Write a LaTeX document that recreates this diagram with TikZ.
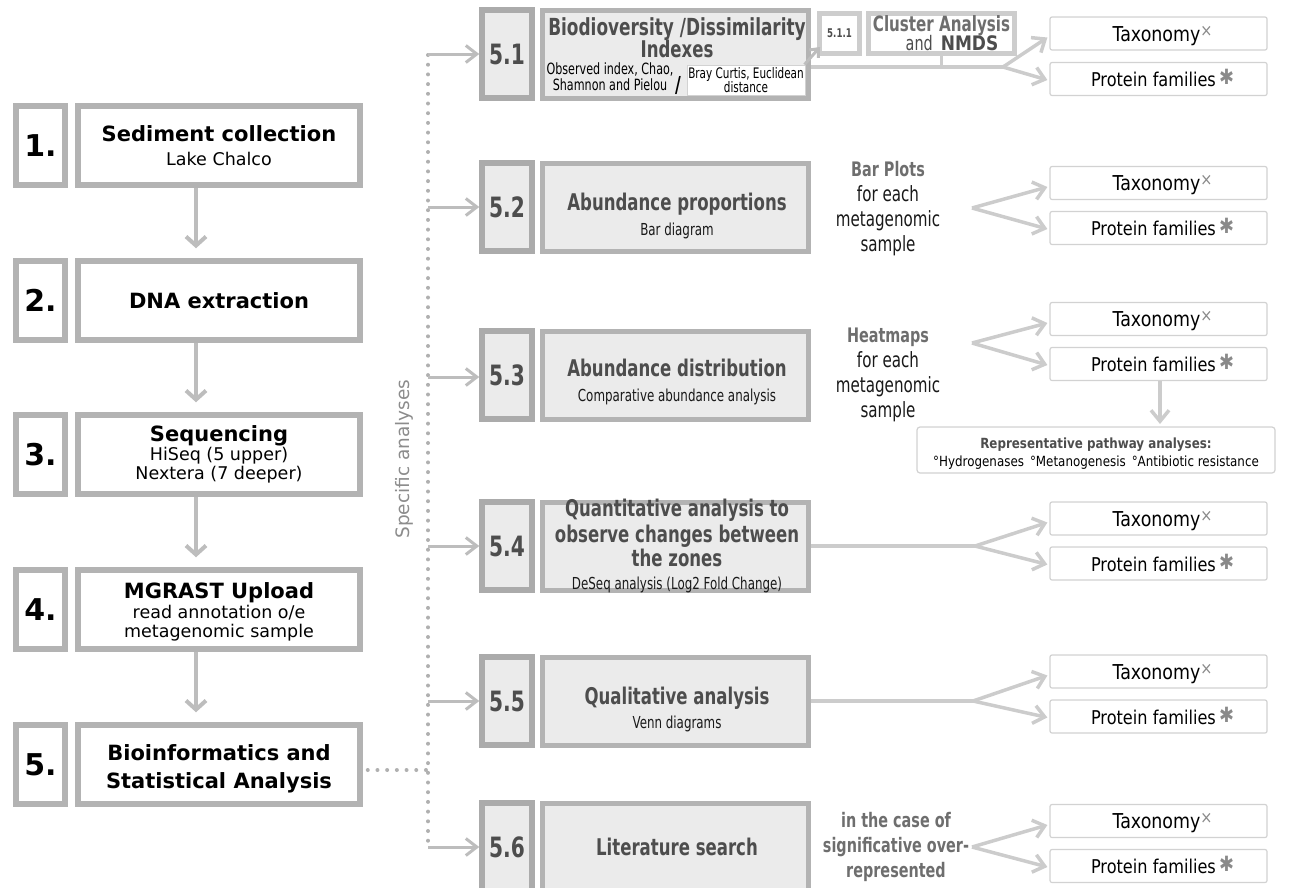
\documentclass[tikz,border=0pt]{standalone}
\usepackage{fontspec}
\setmainfont{DejaVu Sans}
\newfontfamily\nar{DejaVu Sans}[FakeStretch=0.72]
\newfontfamily\tax{DejaVu Sans}[FakeStretch=0.85]
\usetikzlibrary{arrows.meta}
\definecolor{bord}{HTML}{B3B3B3}
\definecolor{nbord}{HTML}{ABABAB}
\definecolor{lite}{HTML}{CDCDCD}
\definecolor{fillg}{HTML}{EBEBEB}
\definecolor{txtg}{HTML}{4D4D4D}
\definecolor{midg}{HTML}{6E6E6E}
\definecolor{arrg}{HTML}{BDBDBD}
\definecolor{arrl}{HTML}{CCCCCC}
\definecolor{dotg}{HTML}{B0B0B0}
\definecolor{thin}{HTML}{D2D2D2}
\definecolor{symg}{HTML}{8A8A8A}
\definecolor{specg}{HTML}{8C8C8C}
\newcommand\fs[1]{\fontsize{#1}{#1}\selectfont}
\newcommand\taxo{\hspace{8pt}{\fs{20.5}Taxonomy}\raisebox{5pt}{\color{symg}\fs{17}×}}
\newcommand\prot{\hspace{8pt}Protein families\,\raisebox{2pt}{\color{symg}\fs{21}✱}}
\begin{document}
\begin{tikzpicture}[x=1pt,y=-1pt,
  lbox/.style={draw=bord, line width=5.5pt, fill=white, inner sep=0pt, minimum height=79pt},
  lnum/.style={lbox, minimum width=49pt, font=\bfseries\fs{30}},
  lmain/.style={lbox, minimum width=282pt},
  rbox/.style={draw=bord, line width=5pt, fill=fillg, inner sep=0pt, minimum height=88pt},
  rnum/.style={rbox, draw=nbord, line width=5.5pt, minimum width=50pt, font=\nar\bfseries\fs{28}, text=txtg},
  rmain/.style={rbox, minimum width=266pt},
  tbox/.style={draw=thin, line width=1.2pt, fill=white, rounded corners=2pt, inner sep=0pt,
    minimum width=217pt, minimum height=33pt, text height=15pt, text depth=0pt, font=\tax\fs{19}},
  txt/.style={inner sep=0pt, anchor=base},
  lb/.style={txt, font=\bfseries\fs{21}},
  lr/.style={txt, font=\fs{17.5}},
  rt/.style={txt, font=\nar\bfseries\fs{23}, text=txtg},
  rs/.style={txt, font=\nar\fs{16.5}, text=black!90},
  sidebold/.style={txt, font=\nar\bfseries\fs{20}, text=midg},
  sidereg/.style={txt, font=\nar\fs{21}, text=black!90},
  larr/.style={draw=arrg, line width=4pt, -{Straight Barb[length=9pt,width=20pt]}},
  rarr/.style={draw=arrg, line width=3pt, -{Straight Barb[length=11pt,width=17pt]}},
  barr/.style={draw=arrl, line width=3.5pt, -{Straight Barb[length=11pt,width=18pt]}},
  sarr/.style={draw=arrg, line width=3pt, -{Straight Barb[length=7pt,width=12pt]}},
  bline/.style={draw=arrl, line width=3.5pt},
  dots/.style={draw=dotg, line width=4pt, line cap=round, dash pattern=on 0pt off 9.7pt}
]
\useasboundingbox (0,0) rectangle (1292,887);

% ---------------- left column
\node[lnum] (n1) at (40.5,145.5) {1.};
\node[lmain] (b1) at (219,145.5) {};
\node[lb] (b1t) at (219,141) {Sediment collection};
\node[lr] (b1s) at (219,165) {Lake Chalco};

\node[lnum] (n2) at (40.5,300.5) {2.};
\node[lmain] (b2) at (219,300.5) {};
\node[lb] (b2t) at (219,308) {DNA extraction};

\node[lnum] (n3) at (40.5,454.5) {3.};
\node[lmain] (b3) at (219,454.5) {};
\node[lb] (b3t) at (219,441) {Sequencing};
\node[lr] (b3s) at (219,460) {HiSeq (5 upper)};
\node[lr] (b3u) at (219,479) {Nextera (7 deeper)};

\node[lnum] (n4) at (40.5,609.5) {4.};
\node[lmain] (b4) at (219,609.5) {};
\node[lb] (b4t) at (219,598) {MGRAST Upload};
\node[lr] (b4s) at (219,618) {read annotation o/e};
\node[lr] (b4u) at (219,637) {metagenomic sample};

\node[lnum] (n5) at (40.5,764.5) {5.};
\node[lmain] (b5) at (219,764.5) {};
\node[lb] (b5t) at (219,760) {Bioinformatics and};
\node[lb] (b5u) at (219,788) {Statistical Analysis};

\draw[larr] ([xshift=-23pt]b1.south) -- ([xshift=-23pt,yshift=10pt]b2.north);
\draw[larr] ([xshift=-23pt]b2.south) -- ([xshift=-23pt,yshift=10pt]b3.north);
\draw[larr] ([xshift=-23pt]b3.south) -- ([xshift=-23pt,yshift=10pt]b4.north);
\draw[larr] ([xshift=-23pt]b4.south) -- ([xshift=-23pt,yshift=10pt]b5.north);

% ---------------- dotted spine
\coordinate (dtop) at (428,55);
\coordinate (dbot) at (428,848);
\coordinate (dj) at (428,770);
\draw[dots] (dtop) -- (dbot);
\draw[dots] ([xshift=5pt,yshift=-5.5pt]b5.east) -- (dj);
\node[rotate=90, font=\fs{18.5}, text=specg, inner sep=0pt] (spec) at (404,459) {Specific analyses};

% ---------------- right boxes
\node[rnum] (r1n) at (507,54) {5.1};
\node[rmain] (r1m) at (675.5,54) {};
\node[rnum] (r2n) at (507,207) {5.2};
\node[rmain] (r2m) at (675.5,207) {};
\node[rnum] (r3n) at (507,375) {5.3};
\node[rmain] (r3m) at (675.5,375) {};
\node[rnum] (r4n) at (507,546) {5.4};
\node[rmain] (r4m) at (675.5,546) {};
\node[rnum] (r5n) at (507,701) {5.5};
\node[rmain] (r5m) at (675.5,701) {};
\node[rnum] (r6n) at (507,847) {5.6};
\node[rmain] (r6m) at (675.5,847) {};

\draw[rarr] (r1n.west -| dtop) -- (r1n.west);
\draw[rarr] (r2n.west -| dtop) -- (r2n.west);
\draw[rarr] ([yshift=-2pt]r3n.west -| dtop) -- ([yshift=-2pt]r3n.west);
\draw[rarr] (r4n.west -| dtop) -- (r4n.west);
\draw[rarr] (r5n.west -| dtop) -- (r5n.west);
\draw[rarr] (r6n.west -| dtop) -- (r6n.west);

% 5.1 contents
\node[rt, font=\nar\bfseries\fs{23.5}] (r1t) at (677,35) {Biodioversity /Dissimilarity};
\node[rt] (r1u) at (677,57) {Indexes};
\node[txt, font=\nar\fs{15.5}] (r1a) at (610,74) {Observed index, Chao,};
\node[txt, font=\nar\fs{15.5}] (r1b) at (610,90.5) {Shamnon and Pielou};
\node[txt, font=\nar\bfseries\fs{22}] (r1sl) at (678,92) {/};
\node[draw=thin, line width=1pt, fill=white, inner sep=0pt, minimum width=118pt, minimum height=30pt] (bray) at (746,80) {};
\node[txt, font=\nar\fs{14.5}] (br1a) at (746,78) {Bray Curtis, Euclidean};
\node[txt, font=\nar\fs{14.5}] (br1b) at (746,92) {distance};

\node[draw=lite, line width=5pt, fill=white, inner sep=0pt, minimum width=40pt, minimum height=40pt,
  font=\nar\bfseries\fs{12}, text=txtg] (r11) at (839.5,33.5) {5.1.1};
\node[draw=lite, line width=5pt, fill=white, inner sep=0pt, minimum width=146pt, minimum height=40pt] (clu) at (941.5,33.5) {};
\node[txt, font=\nar\bfseries\fs{21}, text=midg] (clu1) at (941.5,31) {Cluster Analysis};
\node[txt, text=txtg] (clu2) at (952,50) {{\nar\fs{20}and}\hspace{8pt}{\tax\bfseries\fs{20}NMDS}};

\coordinate (br1) at (1003,67);
\draw[bline] (br1 -| r1m.east) -- (br1);
\draw[bline] (clu.south) -- (clu.south |- br1);
\draw[sarr] ([xshift=-1pt,yshift=0pt]bray.north east) -- ([xshift=3pt,yshift=9pt]r11.south west);

% 5.2 contents
\node[rt] (r2t) at (677,210) {Abundance proportions};
\node[rs] (r2s) at (677,235) {Bar diagram};
\node[sidebold] (bp1) at (888,176) {Bar Plots};
\node[sidereg] (bp2) at (888,201) {for each};
\node[sidereg] (bp3) at (888,226) {metagenomic};
\node[sidereg] (bp4) at (888,251) {sample};
\coordinate (br2) at (972,208);

% 5.3 contents
\node[rt] (r3t) at (677,376) {Abundance distribution};
\node[rs] (r3s) at (677,401) {Comparative abundance analysis};
\node[sidebold] (hm1) at (888,342) {Heatmaps};
\node[sidereg] (hm2) at (888,367) {for each};
\node[sidereg] (hm3) at (888,392) {metagenomic};
\node[sidereg] (hm4) at (888,417) {sample};
\coordinate (br3) at (972,343);

% 5.4 contents
\node[rt] (r4t) at (677,516) {Quantitative analysis to};
\node[rt] (r4u) at (677,542) {observe changes between};
\node[rt] (r4v) at (677,566) {the zones};
\node[rs] (r4s) at (677,589) {DeSeq analysis (Log2 Fold Change)};
\coordinate (br4) at (975,546);
\draw[bline] (r4m.east) -- (br4);

% 5.5 contents
\node[rt] (r5t) at (677,704) {Qualitative analysis};
\node[rs] (r5s) at (677,728) {Venn diagrams};
\coordinate (br5) at (973,701);
\draw[bline] (r5m.east) -- (br5);

% 5.6 contents
\node[rt] (r6t) at (677,855) {Literature search};
\node[sidebold] (ic1) at (896,827) {in the case of};
\node[sidebold] (ic2) at (896,852) {significative over-};
\node[sidebold] (ic3) at (896,877) {represented};
\coordinate (br6) at (972,847);

% ---------------- taxonomy / protein boxes
\node[tbox] (t1) at (1158.5,33.5) {\taxo};
\node[tbox] (p1) at (1158.5,79) {\prot};
\node[tbox] (t2) at (1158.5,183) {\taxo};
\node[tbox] (p2) at (1158.5,228) {\prot};
\node[tbox] (t3) at (1158.5,319) {\taxo};
\node[tbox] (p3) at (1158.5,364) {\prot};
\node[tbox] (t4) at (1158.5,518.5) {\taxo};
\node[tbox] (p4) at (1158.5,563.5) {\prot};
\node[tbox] (t5) at (1158.5,671.5) {\taxo};
\node[tbox] (p5) at (1158.5,716.5) {\prot};
\node[tbox] (t6) at (1158.5,821) {\taxo};
\node[tbox] (p6) at (1158.5,866) {\prot};

\foreach \b/\t/\p in {br1/t1/p1, br2/t2/p2, br3/t3/p3, br4/t4/p4, br5/t5/p5, br6/t6/p6}{
  \draw[barr] (\b) -- ([xshift=-2pt,yshift=-4pt]\t.west);
  \draw[barr] (\b) -- ([xshift=-2pt,yshift=-1pt]\p.west);
}

% pathway box
\node[draw=thin, line width=1.2pt, fill=white, rounded corners=3pt, inner sep=0pt,
  minimum width=358pt, minimum height=46pt] (path) at (1096,450) {};
\node[txt, font=\tax\bfseries\fs{14}, text=txtg] (pa1) at (1096,448) {Representative pathway analyses:};
\node[txt, font=\tax\fs{14}] (pa2) at (1096,466) {°Hydrogenases\hspace{6pt}°Metanogenesis\hspace{6pt}°Antibiotic resistance};
\coordinate (pa) at (1160,424);
\draw[barr] (p3.south -| pa) -- (pa);
\end{tikzpicture}
\end{document}
